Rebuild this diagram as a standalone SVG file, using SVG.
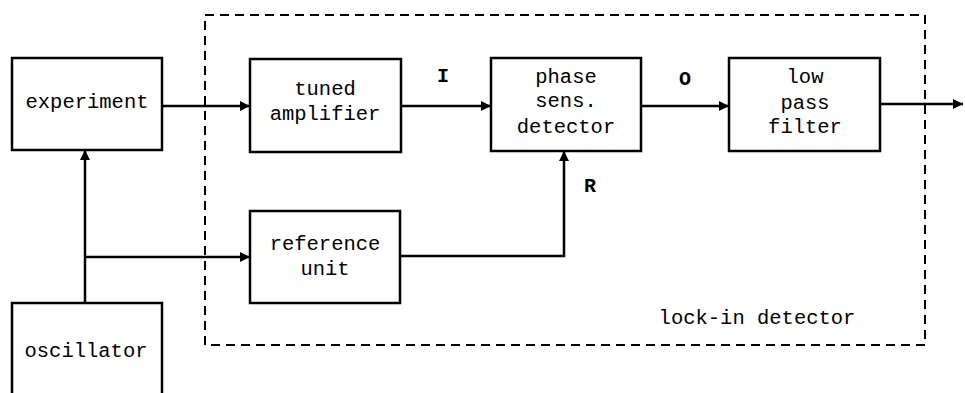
<svg xmlns="http://www.w3.org/2000/svg" width="965" height="393" viewBox="0 0 965 393">
<style>
.box{fill:#fff;stroke:#000;stroke-width:2.5}
.t{font-family:"Liberation Mono","DejaVu Sans Mono",monospace;font-size:20.5px;fill:#000;text-anchor:middle}
.lb{font-family:"Liberation Mono",monospace;font-size:20px;font-weight:bold;fill:#000;text-anchor:middle}
.c{fill:none;stroke:#000;stroke-width:2.5}
.dash{fill:none;stroke:#000;stroke-width:2;stroke-dasharray:9 6}
</style>
<defs>
<marker id="ah" viewBox="0 0 10 10" refX="10" refY="5" markerWidth="12" markerHeight="10" markerUnits="userSpaceOnUse" orient="auto">
<path d="M0,0 L10,5 L0,10 z" fill="#000"/>
</marker>
</defs>
<rect id="lockin-boundary" class="dash" x="205" y="15" width="720" height="330"/>
<g id="connectors">
<path class="c" d="M162,106 H250" marker-end="url(#ah)"/>
<path class="c" d="M401,106 H491" marker-end="url(#ah)"/>
<path class="c" d="M641,106 H729" marker-end="url(#ah)"/>
<path class="c" d="M880,104 H963" marker-end="url(#ah)"/>
<path class="c" d="M85,303 V150" marker-end="url(#ah)"/>
<path class="c" d="M85,257 H250" marker-end="url(#ah)"/>
<path class="c" d="M400,256 H564 V151" marker-end="url(#ah)"/>
</g>
<g id="experiment">
<rect class="box" x="12" y="58" width="150" height="92"/>
<text class="t" x="87" y="108">experiment</text>
</g>
<g id="tuned-amplifier">
<rect class="box" x="250" y="59" width="151" height="93"/>
<text class="t" x="325" y="95">tuned</text>
<text class="t" x="325" y="120">amplifier</text>
</g>
<g id="phase-detector">
<rect class="box" x="491" y="58" width="150" height="93"/>
<text class="t" x="566" y="83">phase</text>
<text class="t" x="566" y="107">sens.</text>
<text class="t" x="566" y="133">detector</text>
</g>
<g id="low-pass-filter">
<rect class="box" x="729" y="58" width="151" height="93"/>
<text class="t" x="805" y="83">low</text>
<text class="t" x="805" y="109">pass</text>
<text class="t" x="805" y="133">filter</text>
</g>
<g id="reference-unit">
<rect class="box" x="250" y="211" width="150" height="92"/>
<text class="t" x="325" y="250">reference</text>
<text class="t" x="325" y="275">unit</text>
</g>
<g id="oscillator">
<path class="c" d="M12,400 V303 H162 V400"/>
<text class="t" x="86" y="357">oscillator</text>
</g>
<g id="labels">
<text class="lb" x="443" y="82">I</text>
<text class="lb" x="685" y="85">O</text>
<text class="lb" x="590" y="192">R</text>
<text class="t" x="757" y="324">lock-in detector</text>
</g>
</svg>
